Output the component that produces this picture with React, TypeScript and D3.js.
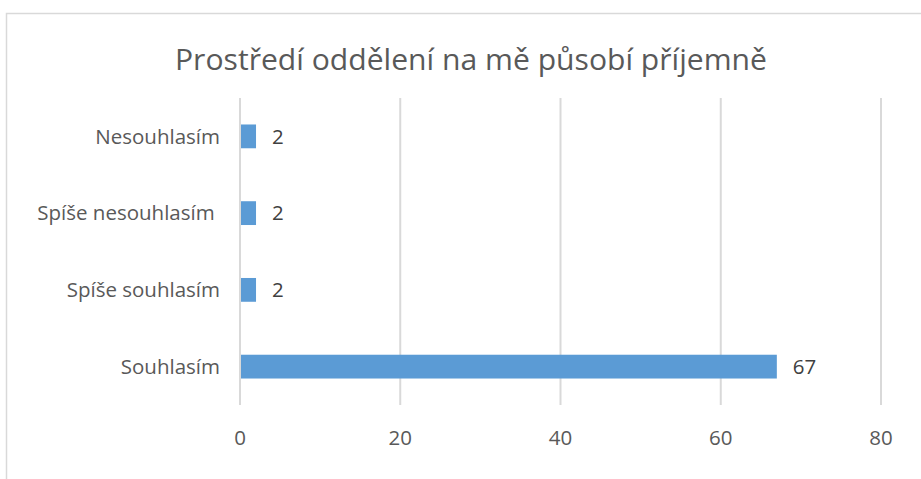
import React from 'react';
import * as d3 from 'd3';

const width = 921;
const height = 479;

// data
const categories = ['Nesouhlasím', 'Spíše nesouhlasím ', 'Spíše souhlasím', 'Souhlasím'];
const values = [2, 2, 2, 67];
const xTicks = [0, 20, 40, 60, 80];
const title = 'Prostředí oddělení na mě působí příjemně';

const margin = { left: 240, right: 40, top: 98, bottom: 74 };
const font = "'Open Sans', 'Liberation Sans', sans-serif";
const labelSize = 20.5;

export default function App() {
  const x = d3.scaleLinear().domain([0, 80]).range([margin.left, 881]);
  const y = d3
    .scaleBand<string>()
    .domain(categories)
    .range([margin.top, height - margin.bottom])
    .paddingInner(0.69)
    .paddingOuter(0.345);

  return (
    <svg
      width={width}
      height={height}
      style={{ position: 'fixed', left: 0, top: 0, background: '#fff' }}
    >
      {/* chart frame, runs off the right and bottom edge */}
      <rect x={6.5} y={13.5} width={width + 20} height={height + 20} fill="#fff" stroke="#d9d9d9" strokeWidth={1.5} />

      <text
        x={471}
        y={70}
        textAnchor="middle"
        fontFamily={font}
        fontSize={29}
        fill="#595959"
        textLength={592}
        lengthAdjust="spacingAndGlyphs"
      >
        {title}
      </text>

      {/* vertical gridlines */}
      {xTicks.map((t) => (
        <line key={t} x1={x(t)} x2={x(t)} y1={margin.top} y2={height - margin.bottom} stroke="#d9d9d9" strokeWidth={2} />
      ))}

      {/* tick labels */}
      {xTicks.map((t) => (
        <text key={'l' + t} x={x(t)} y={445} textAnchor="middle" fontFamily={font} fontSize={labelSize} fill="#595959">
          {t}
        </text>
      ))}

      {/* category labels */}
      {categories.map((c) => (
        <text
          key={c}
          x={220}
          y={(y(c) ?? 0) + y.bandwidth() / 2}
          dy="0.35em"
          textAnchor="end"
          fontFamily={font}
          fontSize={labelSize}
          fill="#595959"
          style={{ whiteSpace: 'pre' }}
        >
          {c}
        </text>
      ))}

      {/* bars */}
      {categories.map((c, i) => (
        <rect
          key={'b' + c}
          x={x(0) + 1}
          y={y(c)}
          width={x(values[i]) - x(0) - 1}
          height={y.bandwidth()}
          fill="#5b9bd5"
        />
      ))}

      {/* data labels */}
      {categories.map((c, i) => (
        <text
          key={'v' + c}
          x={x(values[i]) + 16}
          y={(y(c) ?? 0) + y.bandwidth() / 2}
          dy="0.35em"
          fontFamily={font}
          fontSize={labelSize}
          fill="#404040"
        >
          {values[i]}
        </text>
      ))}
    </svg>
  );
}
